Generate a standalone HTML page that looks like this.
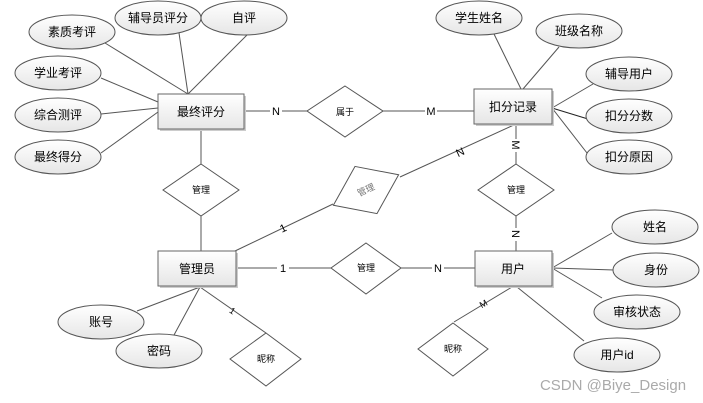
<!DOCTYPE html>
<html><head><meta charset="utf-8"><style>
html,body{margin:0;padding:0;background:#fff;}
svg{display:block;font-family:"Liberation Sans","Noto Sans CJK SC",sans-serif;}
</style></head><body>
<svg width="703" height="403" viewBox="0 0 703 403" xmlns="http://www.w3.org/2000/svg">
<defs>
<linearGradient id="g" x1="0" y1="0" x2="0" y2="1"><stop offset="0" stop-color="#ffffff"/><stop offset="1" stop-color="#e6e6e6"/></linearGradient>
</defs>
<g stroke="#555" stroke-width="1" fill="none">
<!-- 最终评分 attributes -->
<line x1="105" y1="43" x2="188" y2="94"/>
<line x1="179" y1="33" x2="188" y2="94"/>
<line x1="247" y1="35" x2="188" y2="94"/>
<line x1="101" y1="78" x2="158" y2="102"/>
<line x1="101" y1="114" x2="158" y2="108"/>
<line x1="101" y1="153" x2="158" y2="112"/>
<!-- 扣分记录 attributes -->
<line x1="494" y1="34" x2="521" y2="89"/>
<line x1="559" y1="47" x2="523" y2="89"/>
<line x1="593" y1="84" x2="552" y2="108"/>
<line x1="588" y1="119" x2="552" y2="108" stroke="#222"/>
<line x1="587" y1="153" x2="552" y2="108"/>
<!-- relations -->
<line x1="244" y1="111" x2="307" y2="111"/>
<line x1="383" y1="111" x2="474" y2="111"/>
<line x1="201" y1="129" x2="201" y2="164"/>
<line x1="201" y1="216" x2="201" y2="251"/>
<line x1="235" y1="251" x2="333" y2="204"/>
<line x1="400" y1="177" x2="516" y2="124"/>
<line x1="516" y1="124" x2="516" y2="164"/>
<line x1="516" y1="216" x2="516" y2="251"/>
<line x1="236" y1="268" x2="331" y2="268"/>
<line x1="401" y1="268" x2="475" y2="268"/>
<!-- 用户 attributes -->
<line x1="552" y1="268" x2="612" y2="233"/>
<line x1="552" y1="268" x2="614" y2="270"/>
<line x1="552" y1="268" x2="602" y2="298"/>
<line x1="517" y1="287" x2="584" y2="341"/>
<line x1="512" y1="287" x2="454" y2="322"/>
<!-- 管理员 attributes -->
<line x1="200" y1="287" x2="137" y2="311"/>
<line x1="200" y1="287" x2="174" y2="335"/>
<line x1="200" y1="287" x2="266" y2="333"/>
</g>
<!-- labels on lines -->
<g font-size="11" fill="#000" text-anchor="middle">
<rect x="270" y="104" width="12" height="14" fill="#fff"/><text x="276" y="115">N</text>
<rect x="425" y="104" width="12" height="14" fill="#fff"/><text x="431" y="115">M</text>
<rect x="277" y="262" width="12" height="14" fill="#fff"/><text x="283" y="272">1</text>
<rect x="432" y="262" width="12" height="14" fill="#fff"/><text x="438" y="272">N</text>
<text x="283" y="232" transform="rotate(-25 283 228)">1</text>
<text x="460" y="156" transform="rotate(-25 460 152)">N</text>
<rect x="510" y="139" width="12" height="13" fill="#fff"/><text x="516" y="149" transform="rotate(90 516 145)">M</text>
<rect x="510" y="228" width="12" height="13" fill="#fff"/><text x="516" y="238" transform="rotate(90 516 234)">N</text>
<text x="483" y="307" font-size="9" transform="rotate(-30 483 303)">M</text>
<text x="233" y="314" font-size="9" transform="rotate(35 233 310)">1</text>
</g>
<!-- entities -->
<g stroke="#666" fill="url(#g)">
<rect x="160" y="96" width="86" height="35" fill="#ccc" stroke="none"/>
<rect x="158" y="94" width="86" height="35"/>
<rect x="476" y="91" width="78" height="35" fill="#ccc" stroke="none"/>
<rect x="474" y="89" width="78" height="35"/>
<rect x="160" y="253" width="78" height="35" fill="#ccc" stroke="none"/>
<rect x="158" y="251" width="78" height="35"/>
<rect x="477" y="253" width="77" height="35" fill="#ccc" stroke="none"/>
<rect x="475" y="251" width="77" height="35"/>
</g>
<!-- diamonds -->
<g stroke="#555" fill="#fff">
<polygon points="345,86 383,111 345,137 307,111"/>
<polygon points="201,164 239,190 201,216 163,190"/>
<polygon points="516,164 554,190 516,216 478,190"/>
<polygon points="366,243 401,268 366,294 331,268"/>
<polygon points="266,333 301,359 266,386 230,359"/>
<polygon points="453,323 488,349 453,376 418,349"/>
<g transform="rotate(-25 366 190)"><polygon points="366,164 402,190 366,216 330,190"/></g>
</g>
<!-- attribute ellipses -->
<g stroke="#555" fill="url(#g)">
<ellipse cx="72" cy="32" rx="43" ry="17"/>
<ellipse cx="158" cy="18" rx="43" ry="17"/>
<ellipse cx="244" cy="18" rx="43" ry="17"/>
<ellipse cx="58" cy="73" rx="43" ry="17"/>
<ellipse cx="58" cy="115" rx="43" ry="17"/>
<ellipse cx="58" cy="157" rx="43" ry="17"/>
<ellipse cx="479" cy="18" rx="43" ry="17"/>
<ellipse cx="579" cy="31" rx="43" ry="17"/>
<ellipse cx="629" cy="74" rx="43" ry="17"/>
<ellipse cx="629" cy="116" rx="43" ry="17"/>
<ellipse cx="629" cy="157" rx="43" ry="17"/>
<ellipse cx="655" cy="227" rx="43" ry="17"/>
<ellipse cx="656" cy="270" rx="43" ry="17"/>
<ellipse cx="637" cy="312" rx="43" ry="17"/>
<ellipse cx="617" cy="355" rx="43" ry="17"/>
<ellipse cx="101" cy="322" rx="43" ry="17"/>
<ellipse cx="159" cy="351" rx="43" ry="17"/>
</g>
<g font-size="12" fill="#000" text-anchor="middle">
<text x="72" y="36">素质考评</text>
<text x="158" y="22">辅导员评分</text>
<text x="244" y="22">自评</text>
<text x="58" y="77">学业考评</text>
<text x="58" y="119">综合测评</text>
<text x="58" y="161">最终得分</text>
<text x="479" y="22">学生姓名</text>
<text x="579" y="35">班级名称</text>
<text x="629" y="78">辅导用户</text>
<text x="629" y="120">扣分分数</text>
<text x="629" y="161">扣分原因</text>
<text x="655" y="231">姓名</text>
<text x="656" y="274">身份</text>
<text x="637" y="316">审核状态</text>
<text x="617" y="359">用户id</text>
<text x="101" y="326">账号</text>
<text x="159" y="355">密码</text>
<text x="201" y="116">最终评分</text>
<text x="513" y="111">扣分记录</text>
<text x="197" y="273">管理员</text>
<text x="513" y="273">用户</text>
</g>
<g font-size="9" fill="#000" text-anchor="middle">
<text x="345" y="115">属于</text>
<text x="201" y="193">管理</text>
<text x="516" y="193">管理</text>
<text x="366" y="271">管理</text>
<text x="266" y="362">昵称</text>
<text x="453" y="352">昵称</text>
<text x="366" y="193" fill="#777" transform="rotate(-25 366 190)">管理</text>
</g>
<text x="613" y="390" font-size="15" fill="#aaa" text-anchor="middle">CSDN @Biye_Design</text>
</svg>
</body></html>
